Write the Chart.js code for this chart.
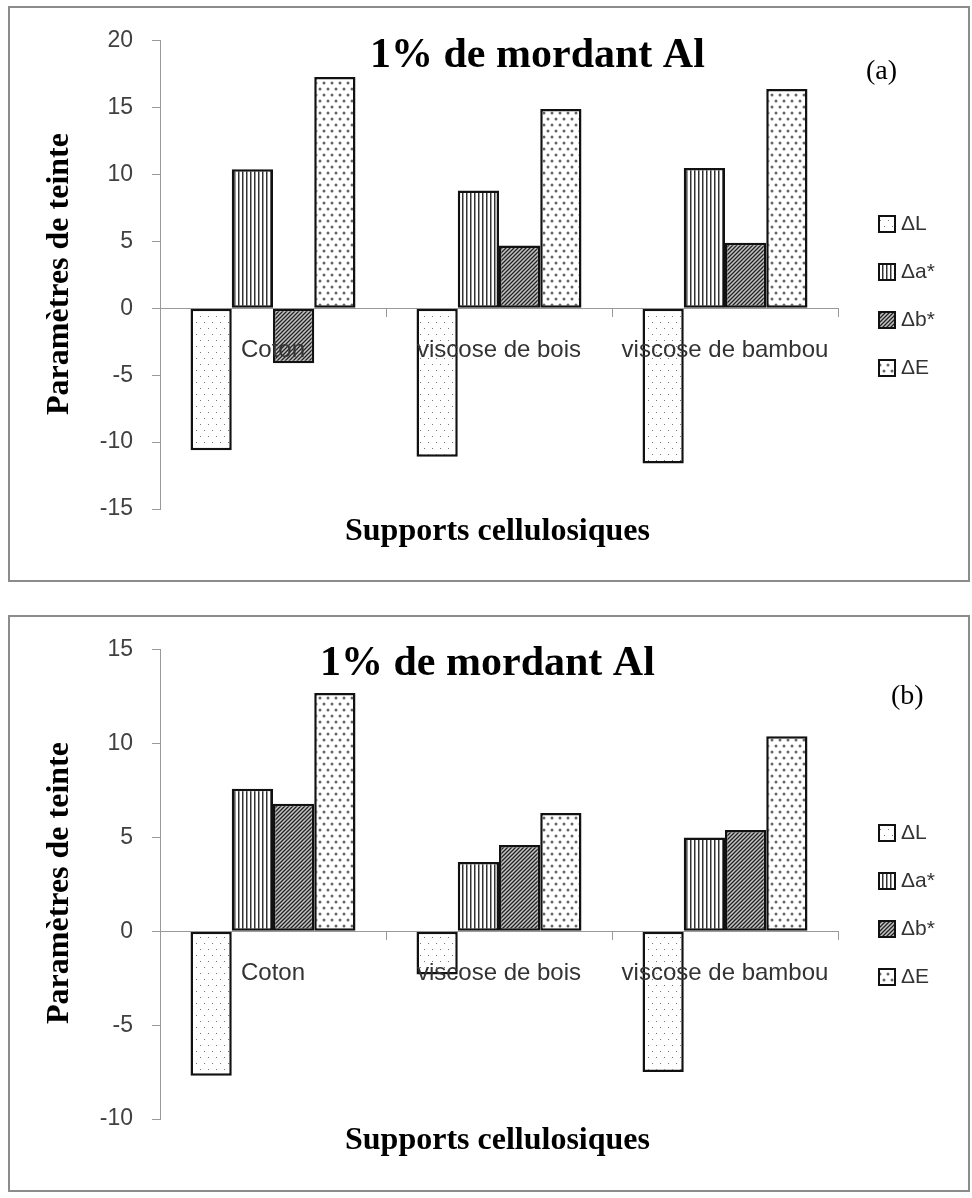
<!DOCTYPE html>
<html>
<head>
<meta charset="utf-8">
<script src="https://cdn.jsdelivr.net/npm/chart.js@4"></script>
<style>
  body { margin: 0; background: #fff; }
  .frame { position: absolute; left: 8px; width: 958px; border: 2px solid #8c8c8c; }
  #fa { top: 6px; height: 572px; }
  #fb { top: 615px; height: 573px; }
  canvas { display: block; }
</style>
</head>
<body>
<div class="frame" id="fa"><canvas id="chartA" width="958" height="572"></canvas></div>
<div class="frame" id="fb"><canvas id="chartB" width="958" height="573"></canvas></div>
<script>
// Données
const categories = ['Coton', 'viscose de bois', 'viscose de bambou'];
const seriesNames = ['ΔL', 'Δa*', 'Δb*', 'ΔE'];

// (a)
const deltaL_a = [-10.6, -11.1, -11.6];
const deltaA_a = [10.4, 8.8, 10.5];
const deltaB_a = [-4.1, 4.7, 4.9];
const deltaE_a = [17.3, 14.9, 16.4];
const yRange_a = [-15, 20];

// (b)
const deltaL_b = [-7.7, -2.3, -7.5];
const deltaA_b = [7.6, 3.7, 5.0];
const deltaB_b = [6.8, 4.6, 5.4];
const deltaE_b = [12.7, 6.3, 10.4];
const yRange_b = [-10, 15];

const titre = '1% de mordant Al';
const titreX = 'Supports cellulosiques';
const titreY = 'Paramètres de teinte';

// Motifs de remplissage (noir et blanc comme dans Excel)
function makePattern(w, h, draw) {
  const c = document.createElement('canvas');
  c.width = w; c.height = h;
  const g = c.getContext('2d');
  draw(g);
  return g.createPattern(c, 'repeat');
}
const patL = makePattern(8, 12, g => {
  g.fillStyle = '#fff'; g.fillRect(0, 0, 8, 12);
  g.fillStyle = '#777';
  g.fillRect(2, 2, 1, 1); g.fillRect(6, 8, 1, 1);
});
const patA = makePattern(4, 4, g => {
  g.fillStyle = '#fff'; g.fillRect(0, 0, 4, 4);
  g.fillStyle = '#333'; g.fillRect(0, 0, 1, 4);
  g.fillStyle = '#999'; g.fillRect(1, 0, 1, 4);
});
const patB = makePattern(4, 4, g => {
  g.fillStyle = '#c4c4c4'; g.fillRect(0, 0, 4, 4);
  g.strokeStyle = '#222'; g.lineWidth = 1.3;
  g.beginPath();
  g.moveTo(-1, 5); g.lineTo(5, -1);
  g.moveTo(-1, 1); g.lineTo(1, -1);
  g.moveTo(3, 5); g.lineTo(5, 3);
  g.stroke();
});
const patE = makePattern(8, 12, g => {
  g.fillStyle = '#fff'; g.fillRect(0, 0, 8, 12);
  g.fillStyle = '#666';
  g.beginPath(); g.arc(2, 3, 1.5, 0, Math.PI * 2); g.fill();
  g.beginPath(); g.arc(6, 9, 1.5, 0, Math.PI * 2); g.fill();
});
const patterns = [patL, patA, patB, patE];

// Titres, étiquette (a)/(b) et légende
const decorPlugin = {
  id: 'decor',
  afterDraw(chart, args, o) {
    const ctx = chart.ctx;
    ctx.save();
    ctx.fillStyle = '#000';
    ctx.textBaseline = 'middle';
    ctx.textAlign = 'left';
    ctx.font = 'bold 42px "Liberation Serif"';
    ctx.fillText(titre, o.titleX, o.titleY);
    ctx.font = '28px "Liberation Serif"';
    ctx.fillText(o.tag, o.tagX, o.tagY);
    ctx.font = 'bold 32px "Liberation Serif"';
    ctx.fillText(titreX, 335, 524);
    ctx.save();
    ctx.translate(50, 266);
    ctx.rotate(-Math.PI / 2);
    ctx.textAlign = 'center';
    ctx.fillText(titreY, 0, 0);
    ctx.restore();

    ctx.font = '21px "Liberation Sans"';
    chart.data.datasets.forEach((ds, i) => {
      const cy = 288 + (i - 1.5) * 48;
      ctx.fillStyle = ds.backgroundColor;
      ctx.fillRect(869, cy - 8, 16, 16);
      ctx.strokeStyle = '#111';
      ctx.lineWidth = 2;
      ctx.strokeRect(869, cy - 8, 16, 16);
      ctx.fillStyle = '#333';
      ctx.fillText(ds.label, 891, cy);
    });
    ctx.restore();
  }
};

function makeChart(id, series, yRange, deco) {
  const ctx = document.getElementById(id).getContext('2d');
  return new Chart(ctx, {
    type: 'bar',
    data: {
      labels: categories,
      datasets: series.map((values, i) => ({
        label: seriesNames[i],
        data: values,
        backgroundColor: patterns[i],
        borderColor: '#111',
        borderWidth: 2.5,
        borderSkipped: false
      }))
    },
    options: {
      responsive: false,
      animation: false,
      layout: { padding: { left: 0, top: deco.padTop, right: 130, bottom: 71 } },
      datasets: { bar: { categoryPercentage: 0.73, barPercentage: 1 } },
      plugins: {
        legend: { display: false },
        tooltip: { enabled: false },
        decor: deco
      },
      scales: {
        x: {
          position: { y: 0 },
          grid: { offset: true, drawOnChartArea: false, tickLength: 8, color: '#999' },
          border: { color: '#999', z: 1 },
          ticks: {
            z: 2,
            font: { family: 'Liberation Sans', size: 24 },
            color: '#333',
            padding: 20,
            maxRotation: 0,
            autoSkip: false
          }
        },
        y: {
          min: yRange[0],
          max: yRange[1],
          ticks: {
            stepSize: 5,
            font: { family: 'Liberation Sans', size: 23 },
            color: '#404040',
            padding: 19
          },
          grid: { drawOnChartArea: false, tickLength: 8, color: '#999' },
          border: { color: '#999' },
          afterFit: scale => { scale.width = 150; }
        }
      }
    },
    plugins: [decorPlugin]
  });
}

makeChart('chartA', [deltaL_a, deltaA_a, deltaB_a, deltaE_a], yRange_a,
  { padTop: 29, titleX: 360, titleY: 48, tag: '(a)', tagX: 856, tagY: 64 });
makeChart('chartB', [deltaL_b, deltaA_b, deltaB_b, deltaE_b], yRange_b,
  { padTop: 30, titleX: 310, titleY: 47, tag: '(b)', tagX: 881, tagY: 80 });
</script>
</body>
</html>
